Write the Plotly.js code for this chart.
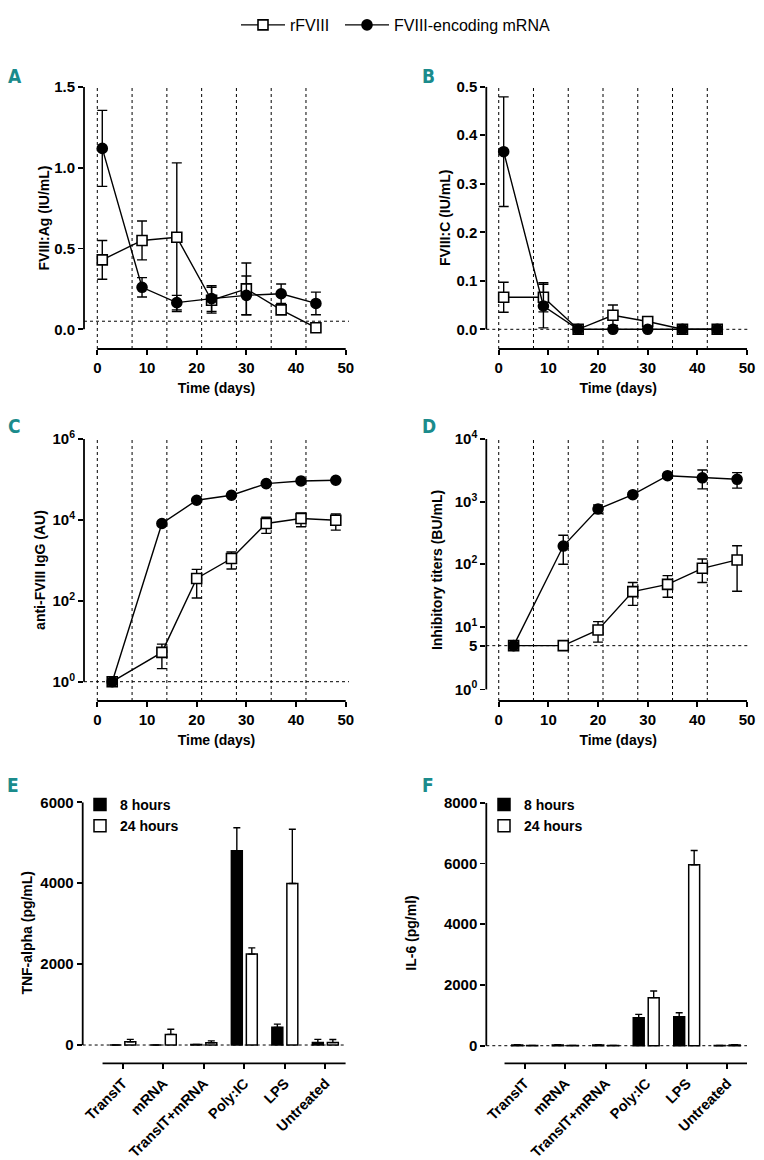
<!DOCTYPE html>
<html>
<head>
<meta charset="utf-8">
<script src="https://cdn.plot.ly/plotly-3.0.1.min.js"></script>
<style>
  html, body { margin: 0; padding: 0; background: #fff; }
  #myGraph { width: 764px; height: 1160px; }
</style>
</head>
<body>
<div id="myGraph"></div>
<script>
// 給藥日 (虛線)
const doseDays = [0, 7, 14, 21, 28, 35, 42];

// A: FVIII:Ag (IU/mL)
const daysAB = [1, 9, 16, 23, 30, 37, 44];
const agRf = [0.43, 0.55, 0.57, 0.18, 0.25, 0.12, 0.01];
const agRfSd = [0.12, 0.12, 0.46, 0.08, 0.16, 0.02, 0.01];
const agMrna = [1.12, 0.26, 0.165, 0.19, 0.21, 0.22, 0.16];
const agMrnaSd = [0.235, 0.06, 0.045, 0.08, 0.12, 0.06, 0.07];

// B: FVIII:C (IU/mL)
const cRf = [0.066, 0.066, 0, 0.029, 0.016, 0, 0];
const cRfSd = [0.031, 0.03, 0, 0.021, 0.01, 0, 0];
const cMrna = [0.366, 0.048, 0, 0, 0, 0, 0];
const cMrnaSd = [0.113, 0.045, 0, 0, 0, 0, 0];

// C: anti-FVIII IgG (AU)
const daysCD = [3, 13, 20, 27, 34, 41, 48];
const igRf = [1, 5.3, 357, 1110, 8150, 10800, 9800];
const igRfSd = [0, 3.2, 240, 500, 3500, 4000, 4200];
const igMrna = [1, 8150, 30600, 40700, 79000, 91800, 95500];

// D: Inhibitory titers (BU/mL)
const inhRf = [5, 5, 8.9, 36.5, 47.7, 86, 117];
const inhRfSd = [0, 0, 3.2, 14.5, 18, 35, 80];
const inhMrna = [5, 195, 762, 1290, 2594, 2400, 2270];
const inhMrnaSd = [0, 95, 120, 80, 150, 800, 630];

// E / F: cytokines
const stimuli = ['TransIT', 'mRNA', 'TransIT+mRNA', 'Poly:IC', 'LPS', 'Untreated'];
const tnf8 = [0, 0, 10, 4800, 437, 60];
const tnf8Sd = [0, 0, 5, 570, 80, 80];
const tnf24 = [80, 263, 57, 2247, 3992, 60];
const tnf24Sd = [60, 125, 45, 155, 1340, 75];
const il8 = [20, 20, 20, 923, 956, 5];
const il8Sd = [10, 10, 10, 110, 130, 0];
const il24 = [10, 10, 10, 1582, 5954, 20];
const il24Sd = [0, 0, 0, 220, 470, 10];

let myGraph = document.getElementById('myGraph');

const W = 764, H = 1160;
function px(x) { return x / W; }
function py(y) { return 1 - y / H; }

const FONT = 'Liberation Sans, Arial, sans-serif';
const bold = {family: FONT, size: 14, color: '#000', weight: 700};
const tickBold = {family: FONT, size: 15, color: '#000', weight: 700};

// 折線 (方塊 = rFVIII, 圓點 = mRNA)
function lineTrace(name, x, y, sd, symbol, xa, ya, lg) {
    return {
        type: 'scatter', mode: 'lines+markers', name: name,
        x: x, y: y, xaxis: xa, yaxis: ya,
        showlegend: !!lg, legend: lg || 'legend', cliponaxis: false,
        line: {color: '#000', width: 1.4},
        marker: {
            symbol: symbol, size: 10,
            color: symbol === 'square' ? '#fff' : '#000',
            line: {color: '#000', width: 1.6}
        },
        error_y: sd ? {type: 'data', array: sd, visible: true, color: '#000', thickness: 1.4, width: 5} : {visible: false}
    };
}

function barTrace(name, y, sd, fill, xa, ya, lg) {
    return {
        type: 'bar', name: name, x: stimuli, y: y, xaxis: xa, yaxis: ya,
        legend: lg,
        marker: {color: fill, line: {color: '#000', width: 1.5}},
        error_y: {type: 'data', symmetric: false, array: sd, arrayminus: sd.map(() => 0),
                  color: '#000', thickness: 1.4, width: 3.5}
    };
}

let data = [];
data.push(lineTrace('rFVIII', daysAB, agRf, agRfSd, 'square', 'x', 'y', 'legend'));
data.push(lineTrace('FVIII-encoding mRNA', daysAB, agMrna, agMrnaSd, 'circle', 'x', 'y', 'legend4'));
data.push(lineTrace('rFVIII', daysAB, cRf, cRfSd, 'square', 'x2', 'y2', null));
data.push(lineTrace('FVIII-encoding mRNA', daysAB, cMrna, cMrnaSd, 'circle', 'x2', 'y2', null));
data.push(lineTrace('rFVIII', daysCD, igRf, igRfSd, 'square', 'x3', 'y3', null));
data.push(lineTrace('FVIII-encoding mRNA', daysCD, igMrna, null, 'circle', 'x3', 'y3', null));
data.push(lineTrace('rFVIII', daysCD, inhRf, inhRfSd, 'square', 'x4', 'y4', null));
data.push(lineTrace('FVIII-encoding mRNA', daysCD, inhMrna, inhMrnaSd, 'circle', 'x4', 'y4', null));
data.push(barTrace('8 hours', tnf8, tnf8Sd, '#000', 'x5', 'y5', 'legend2'));
data.push(barTrace('24 hours', tnf24, tnf24Sd, '#fff', 'x5', 'y5', 'legend2'));
data.push(barTrace('8 hours', il8, il8Sd, '#000', 'x6', 'y6', 'legend3'));
data.push(barTrace('24 hours', il24, il24Sd, '#fff', 'x6', 'y6', 'legend3'));

// 座標軸
function timeAxis(left, right, range, anchor) {
    return {
        domain: [px(left), px(right)], range: range, anchor: anchor,
        tickvals: [0, 10, 20, 30, 40, 50], ticks: 'outside', ticklen: 5, tickwidth: 1.8,
        tickcolor: '#000', showgrid: false, zeroline: false, showline: false,
        tickfont: tickBold, title: {text: 'Time (days)', font: bold, standoff: 8}
    };
}
function valAxis(top, bottom, range, anchor, title, standoff, extra) {
    let a = {
        domain: [py(bottom), py(top)], range: range, anchor: anchor,
        ticks: 'outside', ticklen: 5, tickwidth: 1.8, tickcolor: '#000',
        showgrid: false, zeroline: false, showline: false,
        tickfont: tickBold, title: {text: title, font: bold, standoff: standoff}
    };
    return Object.assign(a, extra);
}
function catAxis(left, right, range, anchor) {
    return {
        domain: [px(left), px(right)], range: range, anchor: anchor, type: 'category',
        ticks: 'outside', ticklen: 5, tickwidth: 1.8, tickcolor: '#000', tickangle: -45,
        showgrid: false, zeroline: false, showline: false,
        tickfont: {family: FONT, size: 14.5, color: '#000', weight: 700}
    };
}

const topLegendFont = {family: FONT, size: 16, color: '#000'};

let layout = {
    width: W, height: H,
    margin: {t: 0, r: 0, b: 0, l: 0},
    paper_bgcolor: '#fff', plot_bgcolor: 'rgba(0,0,0,0)',
    font: {family: FONT, color: '#000'},
    barmode: 'group', bargap: 0.26, bargroupgap: 0.27,
    showlegend: true,
    legend: {orientation: 'h', x: px(236), y: py(8), xanchor: 'left', yanchor: 'top',
             itemwidth: 44, font: topLegendFont, bgcolor: 'rgba(0,0,0,0)'},
    legend4: {orientation: 'h', x: px(340), y: py(8), xanchor: 'left', yanchor: 'top',
              itemwidth: 44, font: topLegendFont, bgcolor: 'rgba(0,0,0,0)'},
    legend2: {x: px(80), y: py(789), xanchor: 'left', yanchor: 'top', tracegroupgap: 0,
              font: bold, bgcolor: 'rgba(0,0,0,0)'},
    legend3: {x: px(484), y: py(789), xanchor: 'left', yanchor: 'top', tracegroupgap: 0,
              font: bold, bgcolor: 'rgba(0,0,0,0)'},
    xaxis: timeAxis(84, 349, [-2.68, 50.66], 'y'),
    yaxis: valAxis(87, 349, [-0.122, 1.5], 'x', 'FVIII:Ag (IU/mL)', 1, {tickvals: [0, 0.5, 1, 1.5], tickformat: '.1f'}),
    xaxis2: timeAxis(486.3, 750, [-2.5, 50.6], 'y2'),
    yaxis2: valAxis(86.7, 349, [-0.0406, 0.5], 'x2', 'FVIII:C (IU/mL)', 2, {tickvals: [0, 0.1, 0.2, 0.3, 0.4, 0.5], tickformat: '.1f'}),
    xaxis3: timeAxis(84, 349, [-2.68, 50.66], 'y3'),
    yaxis3: valAxis(439, 701, [-0.477, 6], 'x3', 'anti-FVIII IgG (AU)', 3,
        {type: 'log', tickvals: [1, 100, 1e4, 1e6], ticktext: ['10<sup>0</sup>', '10<sup>2</sup>', '10<sup>4</sup>', '10<sup>6</sup>']}),
    xaxis4: timeAxis(486.3, 750, [-2.5, 50.6], 'y4'),
    yaxis4: valAxis(439, 701, [-0.185, 4], 'x4', 'Inhibitory titers (BU/mL)', 8,
        {type: 'log', tickvals: [1, 5, 10, 100, 1000, 1e4], ticktext: ['10<sup>0</sup>', '5', '10<sup>1</sup>', '10<sup>2</sup>', '10<sup>3</sup>', '10<sup>4</sup>']}),
    xaxis5: catAxis(82.7, 346, [-0.99, 5.51], 'y5'),
    yaxis5: valAxis(802.3, 1063.3, [-452, 6000], 'x5', 'TNF-alpha (pg/mL)', 4, {tickvals: [0, 2000, 4000, 6000]}),
    xaxis6: catAxis(486.3, 747, [-0.95, 5.49], 'y6'),
    yaxis6: valAxis(802.7, 1063.3, [-579, 8000], 'x6', 'IL-6 (pg/ml)', 24, {tickvals: [0, 2000, 4000, 6000, 8000]}),
    shapes: [],
    annotations: []
};

// Prism 風格的分離座標軸線與虛線
const axisLine = {color: '#000', width: 1.8};
const dotLine = {color: '#000', width: 1, dash: 'dot'};
function panelShapes(n, yLow, yHigh, xLow, xHigh, limit, doses) {
    let xs = n === 1 ? 'x' : 'x' + n, ys = n === 1 ? 'y' : 'y' + n;
    let s = [];
    if (doses) {
        doses.forEach(function (d) {
            s.push({type: 'line', xref: xs, yref: ys + ' domain', x0: d, x1: d, y0: 0, y1: 1, line: dotLine, layer: 'below'});
        });
    }
    s.push({type: 'line', xref: xs + ' domain', yref: ys, x0: 0, x1: 1, y0: limit, y1: limit, line: dotLine, layer: 'below'});
    s.push({type: 'line', xref: xs + ' domain', yref: ys, x0: 0, x1: 0, y0: yLow, y1: yHigh, line: axisLine});
    s.push({type: 'line', xref: xs, yref: ys + ' domain', x0: xLow, x1: xHigh, y0: 0, y1: 0, line: axisLine});
    return s;
}
layout.shapes = layout.shapes
    .concat(panelShapes(1, 0, 1.5, 0, 50, 0.05, doseDays))
    .concat(panelShapes(2, 0, 0.5, 0, 50, 0, doseDays))
    .concat(panelShapes(3, 1, 1e6, 0, 50, 1, doseDays))
    .concat(panelShapes(4, 1, 1e4, 0, 50, 5, doseDays))
    .concat(panelShapes(5, 0, 6000, -0.5, 5.5, 0, null))
    .concat(panelShapes(6, 0, 8000, -0.5, 5.5, 0, null));

// 面板字母
const letters = [['A', 6, 76], ['B', 420, 76], ['C', 6, 426], ['D', 420, 426], ['E', 5, 785], ['F', 420, 785]];
letters.forEach(function (l) {
    layout.annotations.push({
        text: l[0], xref: 'paper', yref: 'paper', x: px(l[1]), y: py(l[2]),
        xanchor: 'left', yanchor: 'middle', showarrow: false,
        font: {family: 'Liberation Sans Narrow, DejaVu Sans Condensed, sans-serif', size: 19, color: '#1b8b8c', weight: 700}
    });
});

Plotly.newPlot(myGraph, data, layout, {staticPlot: true});
</script>
</body>
</html>
